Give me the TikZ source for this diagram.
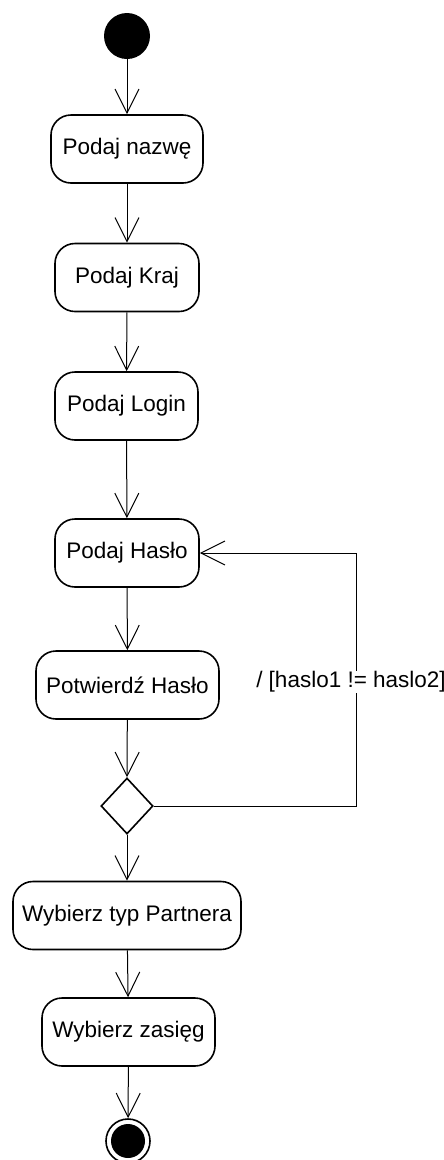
\documentclass[tikz,border=0pt]{standalone}
\usepackage{fontspec}
\setmainfont{Liberation Sans}
\usetikzlibrary{arrows.meta,shapes.geometric}

\tikzset{
  activity/.style={draw, line width=1.6pt, rounded corners=20pt, inner sep=0pt,
    minimum height=68pt, font=\fontsize{22.5}{27}\selectfont},
  flow/.style={line width=1pt, -{Straight Barb[length=24pt,width=24pt,line width=1pt]}},
  decision/.style={draw, diamond, line width=1.6pt, inner sep=0pt,
    minimum width=52pt, minimum height=56pt},
  guard/.style={fill=white, inner sep=1pt, font=\fontsize{22.5}{27}\selectfont}
}

\begin{document}
\begin{tikzpicture}[x=1pt,y=-1pt]
  \useasboundingbox (0,0) rectangle (444,1160);

  % initial node
  \node (start) [circle, fill=black, minimum size=46pt, inner sep=0pt] at (127,36) {};

  % activities
  \node (nazwa)  [activity, minimum width=152pt] at (127,149) {Podaj nazwę};
  \node (kraj)   [activity, minimum width=144pt] at (127,277.5) {Podaj Kraj};
  \node (login)  [activity, minimum width=143pt] at (126.5,406) {Podaj Login};
  \node (haslo)  [activity, minimum width=144pt] at (127,553) {Podaj Hasło};
  \node (potw)   [activity, minimum width=183pt] at (127.5,685) {Potwierdź Hasło};
  \node (dec)    [decision] at (127,806) {};
  \node (typ)    [activity, minimum width=228pt] at (127,915.5) {Wybierz typ Partnera};
  \node (zasieg) [activity, minimum width=173pt] at (128.5,1032) {Wybierz zasięg};

  % final node
  \node (end) [circle, draw, line width=1.6pt, minimum size=44pt, inner sep=0pt] at (128,1141) {};
  \fill (end.center) circle (17pt);

  % control flow
  \draw[flow] (start) -- (nazwa);
  \draw[flow] (nazwa) -- (kraj);
  \draw[flow] (kraj) -- (login);
  \draw[flow] (login) -- (haslo);
  \draw[flow] (haslo) -- (potw);
  \draw[flow] (potw) -- (dec.north);
  \draw[flow] (dec.south) -- (typ);
  \draw[flow] (typ) -- (zasieg);
  \draw[flow] (zasieg) -- (end);

  % loop back when the passwords differ
  \coordinate (corner) at (356,553);
  \draw[flow] (dec.east) -| (corner) -- (haslo.east);
  \node (cond) [guard] at (351,682) {/ [haslo1 != haslo2]};
\end{tikzpicture}
\end{document}
